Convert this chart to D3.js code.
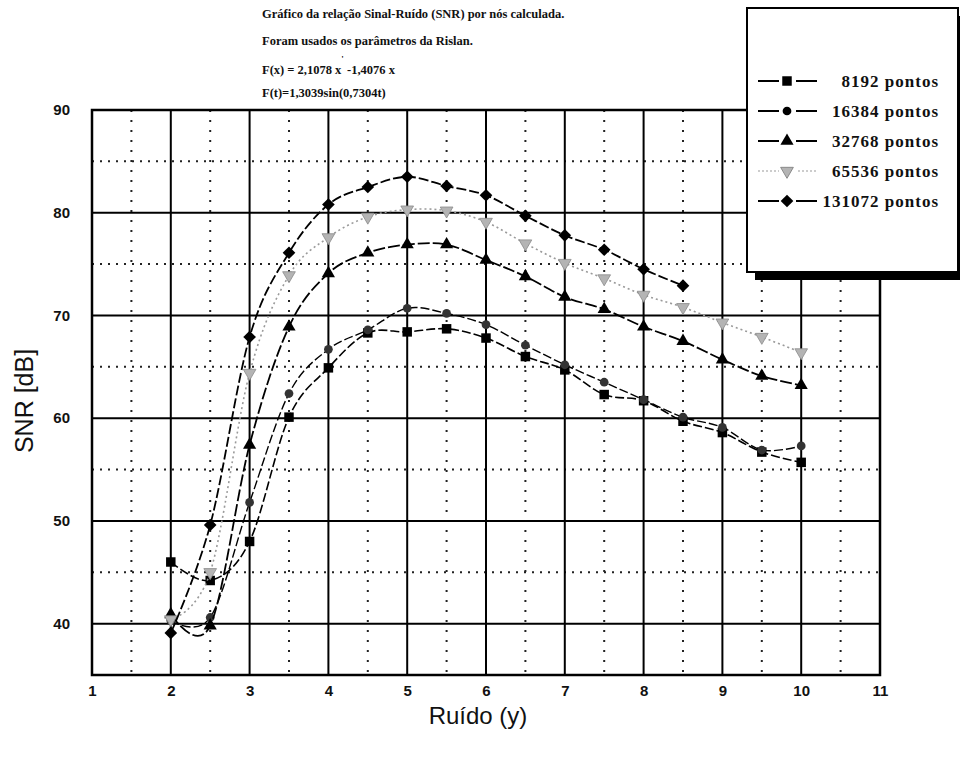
<!DOCTYPE html>
<html>
<head>
<meta charset="utf-8">
<script src="https://cdn.jsdelivr.net/npm/d3@7/dist/d3.min.js"></script>
<style>
  html, body { margin: 0; padding: 0; background: #fff; }
  svg { display: block; }
</style>
</head>
<body>
<svg id="chart" width="960" height="761"></svg>
<script>
// Noise level (x) where SNR was computed
const ruido = [2, 2.5, 3, 3.5, 4, 4.5, 5, 5.5, 6, 6.5, 7, 7.5, 8, 8.5, 9, 9.5, 10];

// SNR [dB] per number of points
const snr8192   = [46.0, 44.2, 48.0, 60.1, 64.9, 68.3, 68.4, 68.7, 67.8, 66.0, 64.7, 62.3, 61.7, 59.7, 58.6, 56.7, 55.7];
const snr16384  = [40.3, 40.6, 51.8, 62.4, 66.7, 68.6, 70.7, 70.2, 69.1, 67.1, 65.2, 63.5, 61.8, 60.1, 59.1, 56.9, 57.3];
const snr32768  = [40.9, 39.8, 57.4, 68.9, 74.1, 76.1, 76.9, 76.9, 75.4, 73.8, 71.8, 70.6, 68.9, 67.5, 65.7, 64.1, 63.2];
const snr65536  = [40.4, 45.0, 64.4, 73.9, 77.6, 79.6, 80.3, 80.2, 79.1, 77.0, 75.1, 73.6, 72.0, 70.8, 69.3, 67.9, 66.4];
const snr131072 = [39.1, 49.6, 67.9, 76.1, 80.8, 82.5, 83.5, 82.6, 81.7, 79.7, 77.8, 76.4, 74.5, 72.9];

const seriesNames = ["8192 pontos", "16384 pontos", "32768 pontos", "65536 pontos", "131072 pontos"];

// Axis ticks
const xTicks = [1, 2, 3, 4, 5, 6, 7, 8, 9, 10, 11];
const xMinor = [1.5, 2.5, 3.5, 4.5, 5.5, 6.5, 7.5, 8.5, 9.5, 10.5];
const yTicks = [40, 50, 60, 70, 80, 90];
const yMinor = [45, 55, 65, 75, 85];

const titleLines = [
  "Gráfico da relação Sinal-Ruído (SNR) por nós calculada.",
  "Foram usados os parâmetros da Rislan."
];
const formulaX = ["F(x) = 2,1078 x", "'", " -1,4076 x"];
const formulaT = "F(t)=1,3039sin(0,7304t)";

const svg = d3.select("#chart");

const plot = { left: 92, right: 880, top: 110, bottom: 675 };
const x = d3.scaleLinear().domain([1, 11]).range([plot.left, plot.right]);
const y = d3.scaleLinear().domain([35, 90]).range([plot.bottom, plot.top]);

const tickFont = "'Liberation Sans', Arial, sans-serif";
const serif = "'Liberation Serif', 'Times New Roman', serif";

// ---- grid ----
const grid = svg.append("g");
grid.selectAll(".vminor").data(xMinor).join("line")
  .attr("x1", d => x(d)).attr("x2", d => x(d))
  .attr("y1", plot.top).attr("y2", plot.bottom)
  .attr("stroke", "#222").attr("stroke-width", 2)
  .attr("stroke-dasharray", "2,8");
grid.selectAll(".hminor").data(yMinor).join("line")
  .attr("x1", plot.left).attr("x2", plot.right)
  .attr("y1", d => y(d)).attr("y2", d => y(d))
  .attr("stroke", "#222").attr("stroke-width", 2)
  .attr("stroke-dasharray", "2,6");
grid.selectAll(".vmajor").data(xTicks.slice(1, -1)).join("line")
  .attr("x1", d => x(d)).attr("x2", d => x(d))
  .attr("y1", plot.top).attr("y2", plot.bottom)
  .attr("stroke", "#000").attr("stroke-width", 2);
grid.selectAll(".hmajor").data(yTicks.slice(0, -1)).join("line")
  .attr("x1", plot.left).attr("x2", plot.right)
  .attr("y1", d => y(d)).attr("y2", d => y(d))
  .attr("stroke", "#000").attr("stroke-width", 2);
svg.append("rect")
  .attr("x", plot.left).attr("y", plot.top)
  .attr("width", plot.right - plot.left).attr("height", plot.bottom - plot.top)
  .attr("fill", "none").attr("stroke", "#000").attr("stroke-width", 2.5);

// ---- axes (labels only, drawn from the scales) ----
const xAxis = svg.append("g")
  .attr("transform", `translate(0,${plot.bottom + 7})`)
  .call(d3.axisBottom(x).tickValues(xTicks).tickSize(0).tickFormat(d3.format("d")));
xAxis.select(".domain").remove();
xAxis.selectAll("text")
  .attr("font-family", tickFont).attr("font-weight", "bold")
  .attr("font-size", 15).attr("fill", "#111");

const yAxis = svg.append("g")
  .attr("transform", `translate(${plot.left - 19},0)`)
  .call(d3.axisLeft(y).tickValues(yTicks).tickSize(0).tickFormat(d3.format("d")));
yAxis.select(".domain").remove();
yAxis.selectAll("text")
  .attr("font-family", tickFont).attr("font-weight", "bold")
  .attr("font-size", 15).attr("fill", "#111");

svg.append("text")
  .attr("x", 478).attr("y", 724)
  .attr("text-anchor", "middle")
  .attr("font-family", tickFont).attr("font-size", 24).attr("fill", "#111")
  .text("Ruído (y)");

svg.append("text")
  .attr("transform", "translate(33,401) rotate(-90)")
  .attr("text-anchor", "middle")
  .attr("font-family", tickFont).attr("font-size", 25).attr("fill", "#111")
  .text("SNR [dB]");

// ---- series ----
const sym = {
  square: { gen: d3.symbol().type(d3.symbolSquare).size(90), rot: 0 },
  circle: { gen: d3.symbol().type(d3.symbolCircle).size(60), rot: 0 },
  triangle: { gen: d3.symbol().type(d3.symbolTriangle).size(75), rot: 0 },
  tridown: { gen: d3.symbol().type(d3.symbolTriangle).size(70), rot: 180 },
  diamond: { gen: d3.symbol().type(d3.symbolSquare).size(80), rot: 45 }
};

const series = [
  { name: seriesNames[0], values: snr8192,   color: "#000", fill: "#000", dash: "9,3", width: 1.6, shape: "square" },
  { name: seriesNames[1], values: snr16384,  color: "#000", fill: "#333", dash: "9,3", width: 1.4, shape: "circle" },
  { name: seriesNames[2], values: snr32768,  color: "#000", fill: "#000", dash: "12,3", width: 1.8, shape: "triangle" },
  { name: seriesNames[3], values: snr65536,  color: "#9a9a9a", fill: "#b4b4b4", dash: "2,3", width: 1.6, shape: "tridown" },
  { name: seriesNames[4], values: snr131072, color: "#000", fill: "#000", dash: "10,3", width: 1.8, shape: "diamond" }
];

const line = d3.line()
  .x(d => x(d[0])).y(d => y(d[1]))
  .curve(d3.curveCardinal.tension(0));

series.forEach(s => {
  const pts = s.values.map((v, i) => [ruido[i], v]);
  const m = sym[s.shape];
  svg.append("path")
    .datum(pts)
    .attr("d", line)
    .attr("fill", "none")
    .attr("stroke", s.color)
    .attr("stroke-width", s.width)
    .attr("stroke-dasharray", s.dash);
  svg.append("g").selectAll("path").data(pts).join("path")
    .attr("d", m.gen)
    .attr("transform", d => `translate(${x(d[0])},${y(d[1])}) rotate(${m.rot})`)
    .attr("fill", s.fill)
    .attr("stroke", s.shape === "tridown" ? "#8a8a8a" : "none")
    .attr("stroke-width", 0.8);
});

// ---- title block ----
const title = svg.append("g")
  .attr("font-family", serif).attr("font-weight", "bold")
  .attr("font-size", 12.5).attr("fill", "#111");
title.append("text").attr("x", 262).attr("y", 18).text(titleLines[0]);
title.append("text").attr("x", 262).attr("y", 45).text(titleLines[1]);
const fx = title.append("text").attr("x", 262).attr("y", 74);
fx.append("tspan").text(formulaX[0]);
fx.append("tspan").attr("dy", -12).attr("font-size", 9).text(formulaX[1]);
fx.append("tspan").attr("dy", 12).text(formulaX[2]);
title.append("text").attr("x", 262).attr("y", 97).text(formulaT);

// ---- legend ----
const lg = { x: 747, y: 8, w: 211, h: 264 };
svg.append("rect")
  .attr("x", lg.x + 8).attr("y", lg.y + 8).attr("width", lg.w).attr("height", lg.h)
  .attr("fill", "#000");
svg.append("rect")
  .attr("x", lg.x).attr("y", lg.y).attr("width", lg.w).attr("height", lg.h)
  .attr("fill", "#fff").attr("stroke", "#000").attr("stroke-width", 2);

const rowY = [81, 111, 141, 171, 201];
const legend = svg.append("g");
series.forEach((s, i) => {
  const m = sym[s.shape];
  const g = legend.append("g").attr("transform", `translate(0,${rowY[i]})`);
  g.append("line")
    .attr("x1", 758).attr("x2", 817).attr("y1", 0).attr("y2", 0)
    .attr("stroke", s.color)
    .attr("stroke-width", s.shape === "tridown" ? 1.2 : 2)
    .attr("stroke-dasharray", s.shape === "tridown" ? "2,2" : null);
  g.append("rect").attr("x", 779).attr("y", -7).attr("width", 17).attr("height", 14).attr("fill", "#fff");
  g.append("path")
    .attr("d", m.gen)
    .attr("transform", `translate(787,0) rotate(${m.rot})`)
    .attr("fill", s.shape === "circle" ? "#000" : s.fill)
    .attr("stroke", s.shape === "tridown" ? "#8a8a8a" : "none");
  g.append("text")
    .attr("x", 939).attr("y", 6)
    .attr("text-anchor", "end")
    .attr("font-family", serif).attr("font-weight", "bold")
    .attr("font-size", 17).attr("letter-spacing", 1).attr("fill", "#111")
    .text(s.name);
});
</script>
</body>
</html>
